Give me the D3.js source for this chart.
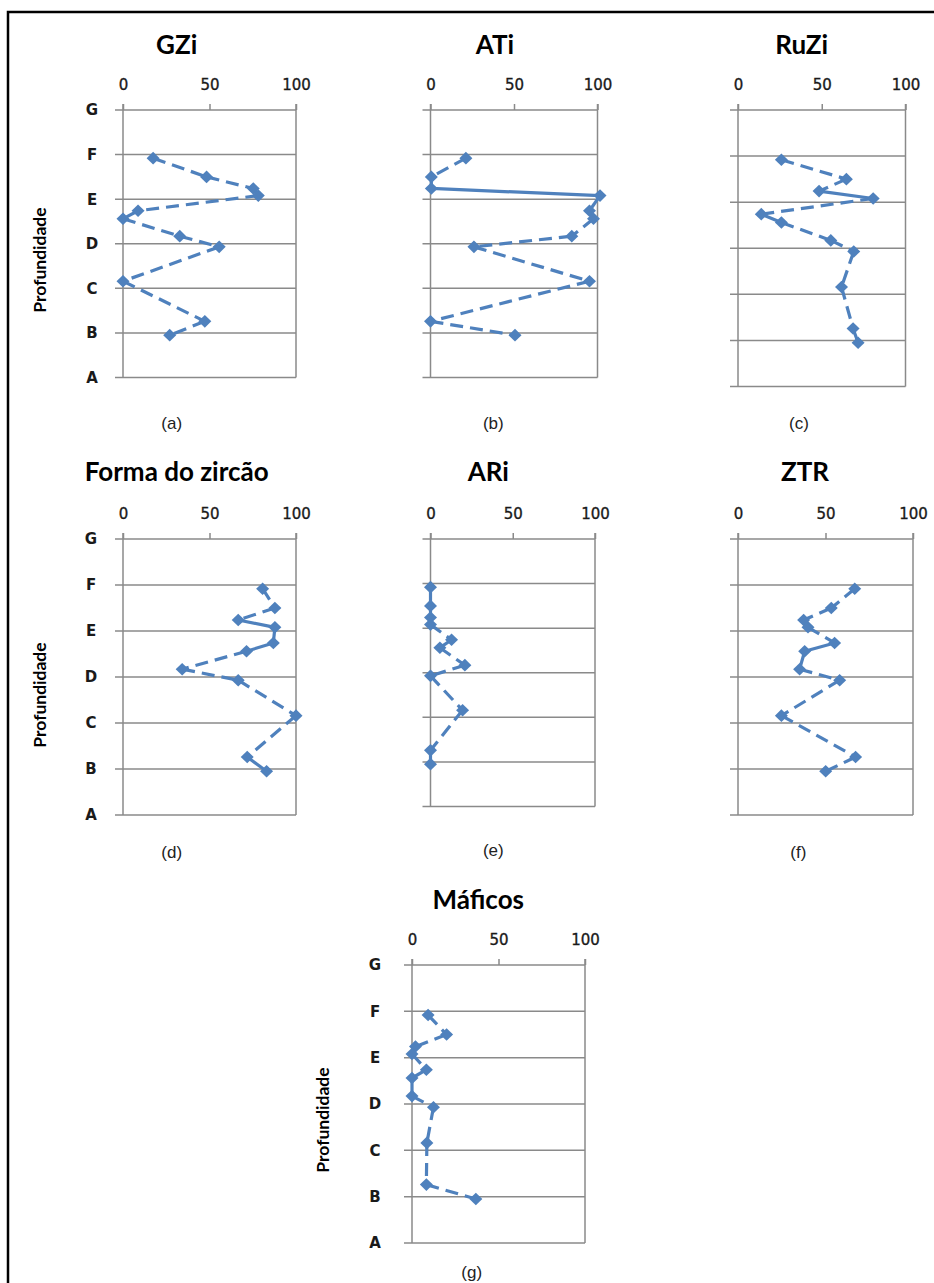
<!DOCTYPE html>
<html>
<head>
<meta charset="utf-8">
<script src="https://cdn.jsdelivr.net/npm/d3@7/dist/d3.min.js"></script>
<style>
  html, body { margin: 0; padding: 0; background: #fff; }
  svg { display: block; }
</style>
</head>
<body>
<svg id="fig" width="934" height="1283"></svg>
<script>
// Depth levels (category labels on the vertical axis) and horizontal ticks
const levels = ["A", "B", "C", "D", "E", "F", "G"];
const xTicks = [0, 50, 100];

// Sample depths, shared by all profiles (0 = A ... 6 = G)
const depth = [4.92, 4.50, 4.24, 4.08, 3.74, 3.56, 3.17, 2.93, 2.16, 1.26, 0.95];

// Index values per sample, top to bottom
const gzi    = [17.4, 48.3, 75.3, 78.2, 8.7, 0, 32.8, 55.6, 0, 47.3, 27.0];
const ati    = [21.2, 0.5, 0.5, 101.5, 95.2, 97.6, 84.6, 26.0, 95.2, 0, 50.6];
const ruzi   = [25.9, 64.7, 48.4, 80.7, 13.9, 25.9, 55.4, 69.1, 61.8, 68.7, 71.7];
const forma  = [80.7, 87.8, 66.6, 87.8, 86.9, 71.4, 34.2, 66.6, 100, 71.8, 83.0];
const ari    = [0, 0, 0, 0, 12.8, 5.7, 20.9, 0, 19.5, 0, 0];
const ztr    = [66.7, 53.3, 37.5, 40.0, 55.2, 38.1, 35.2, 58.1, 24.8, 67.2, 50.1];
const maficos = [9.3, 20.0, 2.0, 0, 8.3, 0, 0, 12.4, 8.6, 8.3, 36.9];

const titles   = ["GZi", "ATi", "RuZi", "Forma do zircão", "ARi", "ZTR", "Máficos"];
const captions = ["(a)", "(b)", "(c)", "(d)", "(e)", "(f)", "(g)"];
const axisTitle = "Profundidade";

// Panel geometry and styling
const BLUE = "#4F81BD";
const GRID = "#8a8a8a";
const panels = [
  { values: gzi,     x0: 123,   x1: 296,   top: 110, bot: 377.5, yLabels: true,  labelDx: 31, title: [176.7, 45],  cap: [171.7, 423.3], axisTitle: [40, 260],    solid: [2] },
  { values: ati,     x0: 430.5, x1: 597.5, top: 110, bot: 377.5, yLabels: false, title: [495, 45],    cap: [493.3, 423.3], solid: [2, 3, 4] },
  { values: ruzi,    x0: 738,   x1: 905.5, top: 110, bot: 386.5, yLabels: false, title: [801.7, 45],  cap: [799, 423.3],   solid: [2, 4, 9] },
  { values: forma,   x0: 123,   x1: 296,   top: 539, bot: 815,   yLabels: true,  labelDx: 32, title: [176.7, 471.7], cap: [171.7, 851.7], axisTitle: [40, 695], solid: [2, 3, 4, 9] },
  { values: ari,     x0: 430.5, x1: 595,   top: 539, bot: 806.5, yLabels: false, title: [488.3, 471.7], cap: [493.3, 850], solid: [0, 1, 2] },
  { values: ztr,     x0: 738,   x1: 913,   top: 539, bot: 815,   yLabels: false, title: [805, 471.7], cap: [798.3, 851.7], solid: [4, 5] },
  { values: maficos, x0: 412,   x1: 585,   top: 965, bot: 1243,  yLabels: true,  labelDx: 37, title: [478.3, 900], cap: [471.7, 1272], axisTitle: [323.3, 1120], solid: [5] }
];

const svg = d3.select("#fig");
svg.append("rect").attr("width", 934).attr("height", 1283).attr("fill", "#fff");

// Frame (left and top edges)
svg.append("path")
  .attr("d", "M8,1283 L8,12 L934,12")
  .attr("fill", "none").attr("stroke", "#000").attr("stroke-width", 2.5);

const diamond = "M0,-6.3 L6.5,0 L0,6.3 L-6.5,0 Z";

panels.forEach((p, i) => {
  const g = svg.append("g");
  const x = d3.scaleLinear().domain([0, 100]).range([p.x0, p.x1]);
  const y = d3.scaleLinear().domain([0, levels.length - 1]).range([p.bot, p.top]);

  // Horizontal gridlines at each depth level, with outward tick on the left
  g.selectAll("line.h").data(levels).join("line")
    .attr("x1", p.x0 - 8).attr("x2", p.x1)
    .attr("y1", (d, k) => y(k)).attr("y2", (d, k) => y(k))
    .attr("stroke", GRID).attr("stroke-width", 1.5);

  // Vertical axis line and right border, both extended as ticks above
  [0, 100].forEach(v => {
    g.append("line")
      .attr("x1", x(v)).attr("x2", x(v))
      .attr("y1", p.top - 6).attr("y2", p.bot)
      .attr("stroke", GRID).attr("stroke-width", 1.5);
  });

  // Top axis ticks and labels
  const xAxis = d3.axisTop(x).tickValues(xTicks).tickSize(6).tickPadding(0).tickFormat(d3.format("d"));
  const ax = g.append("g").attr("transform", `translate(0,${p.top})`).call(xAxis);
  ax.select(".domain").remove();
  ax.selectAll(".tick line").attr("stroke", GRID).attr("stroke-width", 1.5);
  ax.selectAll(".tick text")
    .attr("y", -25).attr("dy", "0.36em")
    .attr("font-family", "DejaVu Sans, Verdana, sans-serif")
    .attr("font-size", 15).attr("fill", "#1a1a1a")
    .attr("stroke", "#1a1a1a").attr("stroke-width", 0.35);

  // Depth labels
  if (p.yLabels) {
    g.selectAll("text.lvl").data(levels).join("text")
      .attr("x", p.x0 - p.labelDx)
      .attr("y", (d, k) => y(k))
      .attr("dy", "0.36em")
      .attr("text-anchor", "middle")
      .attr("font-family", "DejaVu Sans, Verdana, sans-serif")
      .attr("font-weight", "bold").attr("font-size", 15)
      .attr("fill", "#1a1a1a")
      .text(d => d);

    g.append("text")
      .attr("transform", `translate(${p.axisTitle[0]},${p.axisTitle[1]}) rotate(-90)`)
      .attr("dy", "0.35em").attr("text-anchor", "middle")
      .attr("font-family", "Lato, 'Open Sans', sans-serif")
      .attr("font-weight", "bold").attr("font-size", 17.5)
      .attr("fill", "#000")
      .text(axisTitle);
  }

  // Profile line, drawn segment by segment so each dash pattern starts at a sample
  const pts = p.values.map((v, k) => [x(v), y(depth[k])]);
  const segs = d3.pairs(pts).map((s, k) => ({ s, k }));
  g.selectAll("path.seg").data(segs).join("path")
    .attr("d", d => d3.line()(d.s))
    .attr("fill", "none")
    .attr("stroke", BLUE).attr("stroke-width", 3.2)
    .attr("stroke-dasharray", d => p.solid.includes(d.k) ? null : "13,7");

  // Diamond markers
  g.selectAll("path.mk").data(pts).join("path")
    .attr("d", diamond)
    .attr("transform", d => `translate(${d[0]},${d[1]})`)
    .attr("fill", BLUE);

  // Title and caption
  g.append("text")
    .attr("x", p.title[0]).attr("y", p.title[1]).attr("dy", "0.35em")
    .attr("text-anchor", "middle")
    .attr("font-family", "Lato, 'Open Sans', sans-serif")
    .attr("font-weight", "bold").attr("font-size", 26)
    .attr("fill", "#000")
    .text(titles[i]);

  g.append("text")
    .attr("x", p.cap[0]).attr("y", p.cap[1]).attr("dy", "0.35em")
    .attr("text-anchor", "middle")
    .attr("font-family", "Liberation Sans, Arial, sans-serif")
    .attr("font-size", 17).attr("fill", "#222")
    .text(captions[i]);
});
</script>
</body>
</html>
